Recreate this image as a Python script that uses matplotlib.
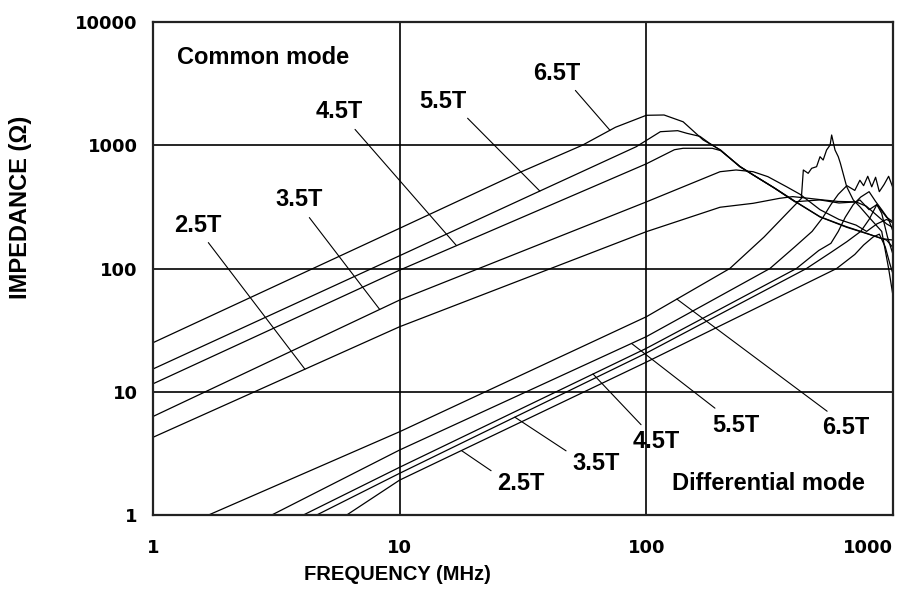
import numpy as np
import matplotlib
matplotlib.use("Agg")
import matplotlib.pyplot as plt

# ---------------- data (frequency MHz, impedance ohm) ----------------
cm_labels = ["2.5T", "3.5T", "4.5T", "5.5T", "6.5T"]

cm_25_f = [1, 10, 100, 199, 271, 347, 392, 450, 520, 600, 708, 780, 860, 942, 1000]
cm_25_z = [4.27, 33.7, 199, 314, 338, 371, 383, 372, 360, 350, 347, 320, 270, 230, 215]

cm_35_f = [1, 10, 100, 199, 231, 271, 311, 370, 420, 506, 604, 708, 782, 860, 942, 1000]
cm_35_z = [6.3, 55.5, 347, 610, 630, 610, 556, 461, 400, 300, 250, 225, 200, 230, 250, 235]

cm_45_f = [1, 10, 100, 130, 141, 185, 200, 240, 271, 330, 400, 506, 649, 782, 900, 1000]
cm_45_z = [11.6, 97, 707, 920, 945, 945, 905, 672, 575, 452, 352, 263, 218, 193, 175, 170]

cm_55_f = [1, 10, 37, 91, 114, 134, 146, 165, 180, 200, 240, 271, 330, 400, 506, 649, 782, 942, 994]
cm_55_z = [15.3, 127, 425, 973, 1288, 1313, 1250, 1180, 1040, 910, 670, 575, 450, 350, 262, 216, 192, 170, 150]

cm_65_f = [1, 10, 30, 55, 75, 100, 118, 141, 170, 200, 239, 271, 330, 400, 506, 604, 708, 734, 800, 860, 942, 1000]
cm_65_z = [25, 212, 590, 1000, 1400, 1750, 1760, 1550, 1104, 915, 670, 574, 450, 348, 360, 340, 347, 360, 300, 330, 260, 240]

dm_labels = ["2.5T", "3.5T", "4.5T", "5.5T", "6.5T"]

dm_25_f = [6.1, 10, 100, 591, 700, 760, 830, 880, 930, 970, 1000]
dm_25_z = [1, 1.92, 17.4, 100, 130, 155, 180, 190, 150, 110, 90]

dm_35_f = [4.61, 10, 100, 446, 560, 650, 740, 800, 860, 900, 950, 1000]
dm_35_z = [1, 2.18, 20.6, 100, 135, 165, 200, 250, 330, 280, 180, 130]

dm_45_f = [4.07, 10, 100, 406, 500, 560, 600, 640, 690, 740, 800, 850, 900, 960, 1000]
dm_45_z = [1, 2.44, 22.5, 100, 140, 160, 200, 260, 330, 380, 420, 350, 300, 250, 200]

dm_55_f = [3.03, 10, 100, 317, 400, 470, 520, 560, 600, 650, 700, 734, 760, 790, 820, 850, 880, 920, 960, 1000]
dm_55_z = [1, 3.37, 28, 100, 150, 200, 260, 330, 400, 470, 430, 520, 470, 560, 460, 550, 420, 480, 560, 450]

dm_65_f = [1.68, 10, 100, 218, 300, 393, 425, 433, 453, 468, 490, 506, 521, 538, 556, 564, 582, 600, 612, 649, 690, 734, 800, 900, 960, 1000]
dm_65_z = [1, 4.74, 40.6, 100, 180, 315, 370, 630, 592, 650, 670, 807, 759, 915, 1005, 1211, 915, 807, 713, 461, 360, 317, 260, 200, 100, 60]

x_ticks = [1, 10, 100, 1000]
x_ticklabels = ["1", "10", "100", "1000"]
y_ticks = [1, 10, 100, 1000, 10000]
y_ticklabels = ["1", "10", "100", "1000", "10000"]

# ---------------- figure ----------------
W, H = 903, 602
fig = plt.figure(figsize=(W / 100, H / 100), dpi=100)
L, R, T, B = 153, 893, 22, 515
ax = fig.add_axes([L / W, 1 - B / H, (R - L) / W, (B - T) / H])
ax.set_xscale("log")
ax.set_yscale("log")
ax.set_xlim(1, 1000)
ax.set_ylim(1, 10000)

for x in x_ticks[1:-1]:
    ax.axvline(x, color="black", lw=1.2, zorder=1)
for y in y_ticks[1:-1]:
    ax.axhline(y, color="black", lw=1.2, zorder=1)

curves_cm = [(cm_25_f, cm_25_z), (cm_35_f, cm_35_z), (cm_45_f, cm_45_z), (cm_55_f, cm_55_z), (cm_65_f, cm_65_z)]
curves_dm = [(dm_25_f, dm_25_z), (dm_35_f, dm_35_z), (dm_45_f, dm_45_z), (dm_55_f, dm_55_z), (dm_65_f, dm_65_z)]
for f, z in curves_cm + curves_dm:
    ax.plot(f, z, color="black", lw=0.9, zorder=2, clip_on=True)

for s in ax.spines.values():
    s.set_linewidth(1.6)
    s.set_color("#222222")

ax.set_xticks(x_ticks)
ax.set_xticklabels(x_ticklabels)
ax.set_yticks(y_ticks)
ax.set_yticklabels(y_ticklabels)
ax.minorticks_off()
ax.tick_params(length=0, labelsize=13)
ax.tick_params(axis="y", pad=11)
ax.tick_params(axis="x", pad=17)
for lab in ax.get_xticklabels() + ax.get_yticklabels():
    lab.set_fontfamily("DejaVu Sans")
    lab.set_fontweight("bold")
ax.get_xticklabels()[-1].set_horizontalalignment("right")

lab_font = dict(family="Liberation Sans", weight="bold", size=17)

fig.text(397 / W, 1 - 575 / H, "FREQUENCY (MHz)", ha="center", va="center",
         family="Liberation Sans", weight="bold", size=14.5)
fig.text(21 / W, 1 - 207 / H, "IMPEDANCE (\u03a9)", ha="center", va="center", rotation=90,
         family="Liberation Sans", weight="bold", size=17)

def ax_frac(px, py):
    return ((px - L) / (R - L), (B - py) / (B - T))

ax.text(*ax_frac(263, 58), "Common mode", transform=ax.transAxes, ha="center", va="center", **lab_font)
ax.text(*ax_frac(768, 483), "Differential mode", transform=ax.transAxes, ha="center", va="center", **lab_font)

def on_curve(f, z, ft):
    return 10 ** np.interp(np.log10(ft), np.log10(f), np.log10(z))

# label: (curve, text px center, target freq, relpos)
cm_ann = [
    (curves_cm[0], (198, 225), 4.13, (0.62, 0.0)),
    (curves_cm[1], (299, 200), 8.3, (0.62, 0.0)),
    (curves_cm[2], (339, 112), 17.0, (0.73, 0.0)),
    (curves_cm[3], (443, 101), 37.0, (0.9, 0.0)),
    (curves_cm[4], (557, 73), 71.2, (0.78, 0.0)),
]
dm_ann = [
    (curves_dm[0], (521, 483), 17.8, (0.0, 0.85)),
    (curves_dm[1], (596, 463), 29.3, (0.0, 0.85)),
    (curves_dm[2], (656, 442), 60.8, (0.3, 1.0)),
    (curves_dm[3], (736, 425), 87.1, (0.2, 1.0)),
    (curves_dm[4], (846, 428), 133, (0.25, 1.0)),
]
for lbls, anns in ((cm_labels, cm_ann), (dm_labels, dm_ann)):
    for lbl, ((f, z), (tx, ty), ft, rp) in zip(lbls, anns):
        ax.annotate(lbl, xy=(ft, on_curve(f, z, ft)), xytext=ax_frac(tx, ty),
                    textcoords="axes fraction", xycoords="data", ha="center", va="center",
                    arrowprops=dict(arrowstyle="-", lw=0.8, color="black", relpos=rp,
                                    shrinkA=3, shrinkB=0), **lab_font)

fig.savefig("out.png", dpi=100, facecolor="white")
